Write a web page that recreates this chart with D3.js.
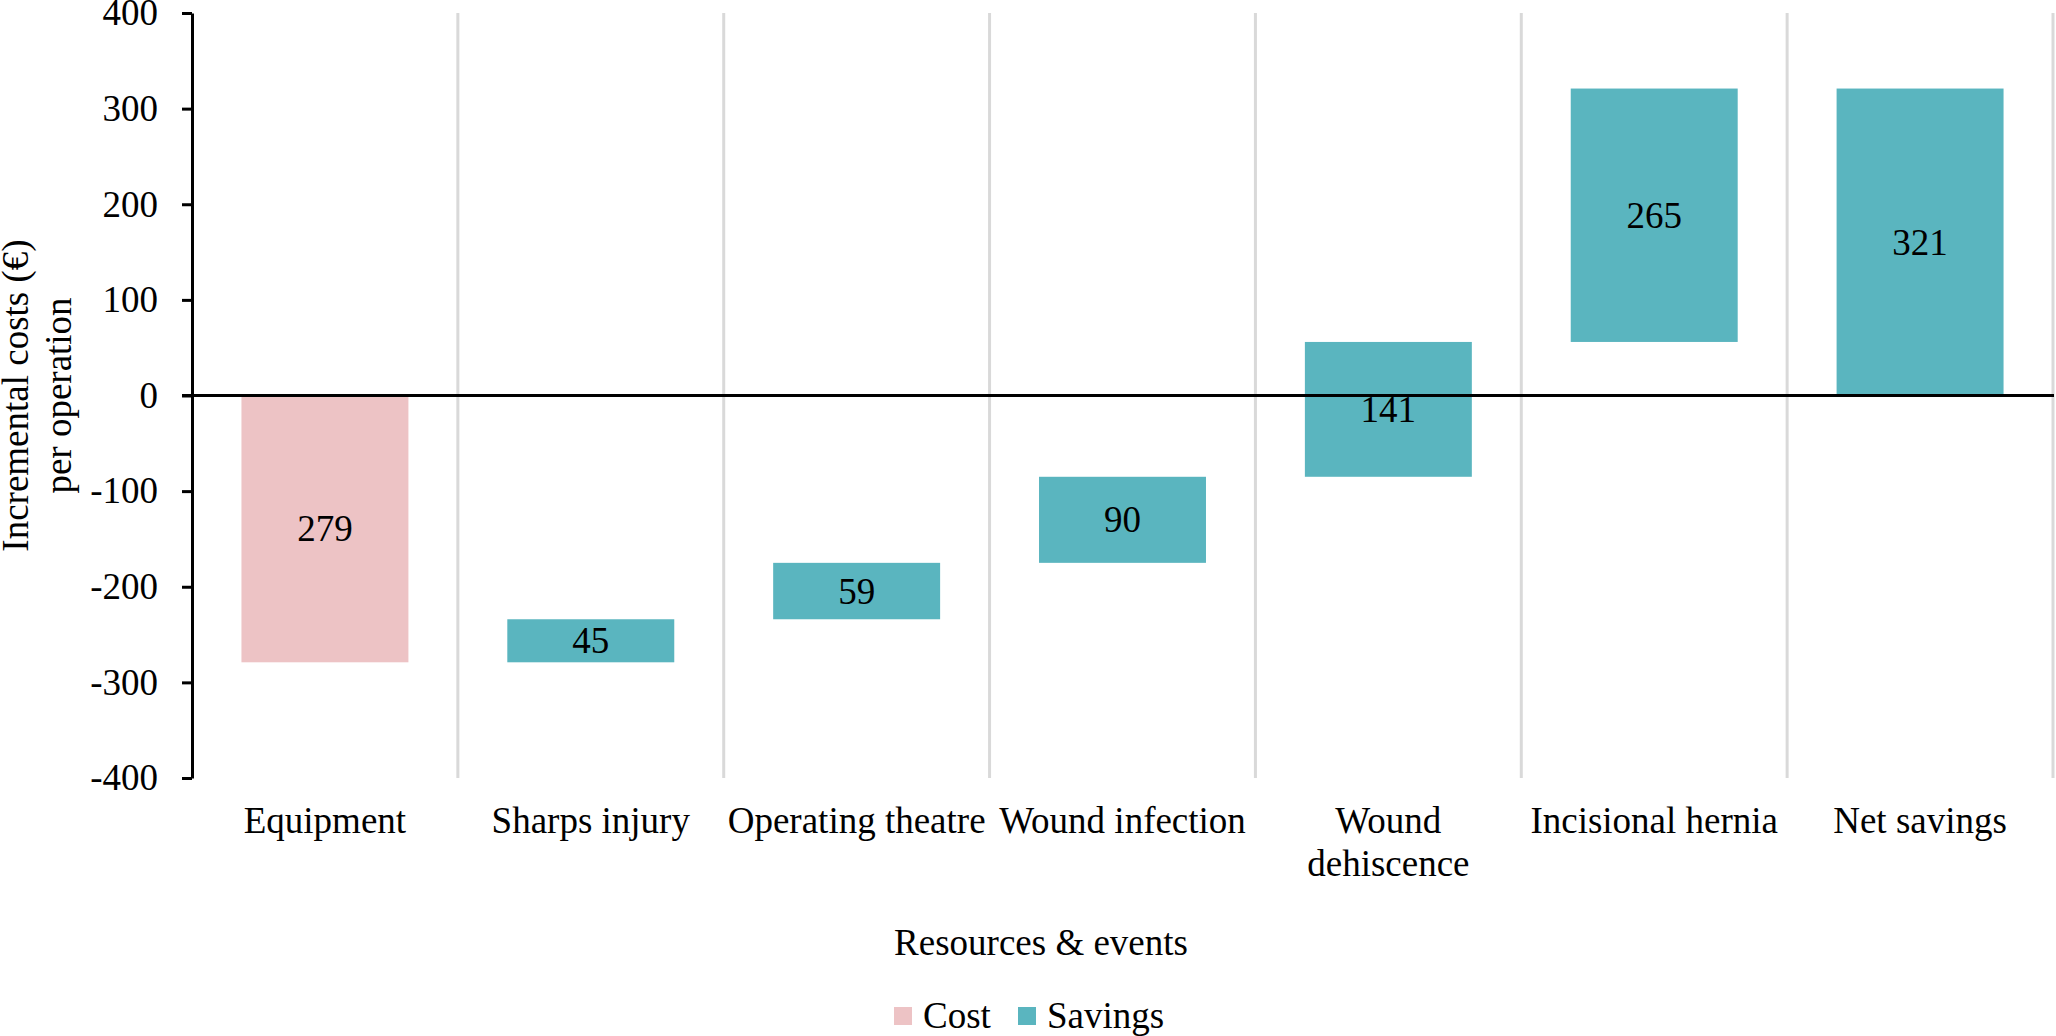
<!DOCTYPE html>
<html>
<head>
<meta charset="utf-8">
<script src="https://cdn.jsdelivr.net/npm/d3@7"></script>
<style>
  html, body { margin: 0; padding: 0; background: #fff; }
  svg { display: block; }
  text { font-family: "Liberation Serif", "Times New Roman", serif; fill: #000; }
</style>
</head>
<body>
<svg id="chart" width="2056" height="1036"></svg>
<script>
// ---- data ----
const categories = ["Equipment", "Sharps injury", "Operating theatre", "Wound infection", "Wound dehiscence", "Incisional hernia", "Net savings"];
const categoryLabels = ["Equipment", "Sharps injury", "Operating theatre", "Wound infection", "Wound\ndehiscence", "Incisional hernia", "Net savings"];
const values = [279, 45, 59, 90, 141, 265, 321];
const kinds = ["Cost", "Savings", "Savings", "Savings", "Savings", "Savings", "Total"];
const yTicks = [-400, -300, -200, -100, 0, 100, 200, 300, 400];
const legendItems = ["Cost", "Savings"];

(function () {
  const FS = "37px";
  // ---- waterfall layout (from values) ----
  let running = 0;
  const bars = categories.map((c, i) => {
    const v = values[i];
    let lo, hi;
    if (kinds[i] === "Cost") { hi = running; lo = running - v; running = lo; }
    else if (kinds[i] === "Savings") { lo = running; hi = running + v; running = hi; }
    else { lo = 0; hi = v; }
    return { cat: c, value: v, lo, hi, kind: kinds[i] };
  });

  const colors = { Cost: "#EDC3C5", Savings: "#5AB5BF", Total: "#5AB5BF" };

  const svg = d3.select("#chart");
  const pLeft = 192, pRight = 2053, pTop = 13, pBottom = 778;

  const x = d3.scaleBand().domain(categories).range([pLeft, pRight]).paddingInner(0.372).paddingOuter(0.186);
  const xg = d3.scaleBand().domain(categories).range([pLeft, pRight]).padding(0);
  const y = d3.scaleLinear().domain([-400, 400]).range([pBottom, pTop]);

  // vertical separators
  svg.append("g").selectAll("line").data(categories).join("line")
    .attr("x1", d => xg(d) + xg.bandwidth()).attr("x2", d => xg(d) + xg.bandwidth())
    .attr("y1", y(400)).attr("y2", y(-400))
    .attr("stroke", "#D9D9D9").attr("stroke-width", 3);

  // bars
  svg.append("g").selectAll("rect").data(bars).join("rect")
    .attr("x", d => x(d.cat)).attr("width", x.bandwidth())
    .attr("y", d => y(d.hi)).attr("height", d => y(d.lo) - y(d.hi))
    .attr("fill", d => colors[d.kind]);

  // y axis
  const yAxis = svg.append("g").attr("transform", `translate(${pLeft},0)`)
    .call(d3.axisLeft(y).tickValues(yTicks).tickFormat(d => String(d))
      .tickSize(10).tickSizeOuter(0).tickPadding(24));
  yAxis.select(".domain").attr("stroke", "#000").attr("stroke-width", 3);
  yAxis.selectAll(".tick line").attr("stroke", "#000").attr("stroke-width", 3);
  yAxis.selectAll(".tick text").style("font-family", "'Liberation Serif', serif").style("font-size", FS).attr("fill", "#000");

  // zero line
  svg.append("line").attr("x1", pLeft - 10).attr("x2", pRight + 1)
    .attr("y1", y(0)).attr("y2", y(0)).attr("stroke", "#000").attr("stroke-width", 3);

  // value labels
  svg.append("g").selectAll("text").data(bars).join("text")
    .attr("x", d => x(d.cat) + x.bandwidth() / 2)
    .attr("y", d => (y(d.lo) + y(d.hi)) / 2 + 12.5)
    .attr("text-anchor", "middle").style("font-size", FS)
    .text(d => d.value);

  // category labels
  const catG = svg.append("g");
  categories.forEach((c, i) => {
    const cx = xg(c) + xg.bandwidth() / 2;
    const t = catG.append("text").attr("text-anchor", "middle").style("font-size", FS)
      .attr("x", cx).attr("y", 833);
    categoryLabels[i].split("\n").forEach((ln, j) => {
      t.append("tspan").attr("x", cx).attr("dy", j === 0 ? 0 : 43).text(ln);
    });
  });

  // x axis title
  svg.append("text").attr("x", 1041).attr("y", 955).attr("text-anchor", "middle")
    .style("font-size", FS).text("Resources & events");

  // y axis title
  const yt = svg.append("text").attr("text-anchor", "middle").style("font-size", FS)
    .attr("transform", `translate(0,${(pTop + pBottom) / 2}) rotate(-90)`);
  yt.append("tspan").attr("x", 0).attr("y", 28).text("Incremental costs (€)");
  yt.append("tspan").attr("x", 0).attr("y", 71).text("per operation");

  // legend
  const legendX = [894, 1018];
  const lg = svg.append("g");
  legendItems.forEach((k, i) => {
    lg.append("rect").attr("x", legendX[i]).attr("y", 1007).attr("width", 18).attr("height", 18).attr("fill", colors[k]);
    lg.append("text").attr("x", legendX[i] + 29).attr("y", 1028).style("font-size", FS).text(k);
  });
})();
</script>
</body>
</html>
